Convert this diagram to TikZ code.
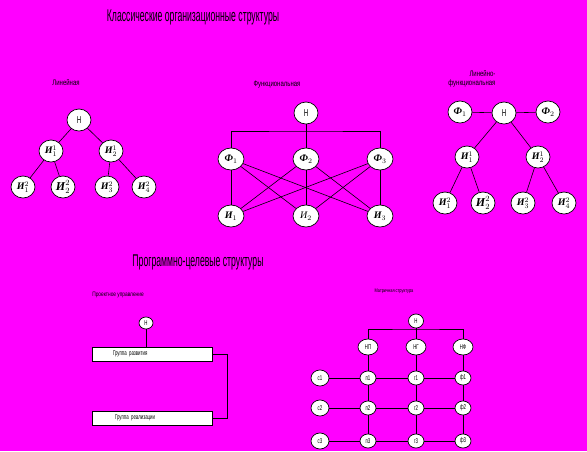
\documentclass[tikz,border=0pt]{standalone}
\usepackage{fontspec}
\setmainfont{Liberation Serif}
\newfontfamily\narrowfont[FakeStretch=0.62]{Liberation Sans}
\newfontfamily\capfont[FakeStretch=0.75]{Liberation Sans}
\newfontfamily\headfont[FakeStretch=0.51]{Liberation Sans}
\usetikzlibrary{shapes.geometric}
\definecolor{bgmag}{HTML}{FF00FF}

\begin{document}
\begin{tikzpicture}[x=1pt,y=-1pt,
    unit/.style={ellipse, draw, fill=white, line width=0.7pt, minimum width=24pt, minimum height=22pt, inner sep=0pt, font=\fontsize{10}{10}\selectfont\bfseries\itshape},
    small/.style={ellipse, draw, fill=white, line width=0.7pt, minimum width=16pt, minimum height=14pt, inner sep=0pt, font=\narrowfont\fontsize{7}{7}\selectfont},
    caption/.style={font=\capfont\fontsize{8}{9}\selectfont},
    heading/.style={font=\headfont\fontsize{17}{17}\selectfont},
    groupbox/.style={draw, fill=white, line width=0.7pt, minimum height=14pt, text width=120pt, inner xsep=0pt, align=left, font=\narrowfont\fontsize{7}{7}\selectfont},
    link/.style={line width=0.6pt}]
    \fill[bgmag] (0,0) rectangle (587,451);
    \useasboundingbox (0,0) rectangle (587,451);

    \node[heading] (T1) at (193,17) {Классические организационные структуры};
    \node[heading] (T2) at (198,262) {Программно-целевые структуры};

    % linear
    \node[caption] (capL) at (66,83) {Линейная};
    \node[unit] (LN) at (79,120) {\mdseries\upshape\narrowfont Н};
    \node[unit] (L11) at (51,151) {И$^{1}_{1}$};
    \node[unit] (L12) at (111,151) {И$^{1}_{2}$};
    \node[unit] (L21) at (23,187) {И$^{2}_{1}$};
    \node[unit] (L22) at (63,187) {\fontsize{12}{12}\selectfont И$^{2}_{2}$};
    \node[unit] (L23) at (107,187) {И$^{2}_{3}$};
    \node[unit] (L24) at (144,187) {И$^{2}_{4}$};
    \draw[link] (LN) -- (L11); \draw[link] (LN) -- (L12);
    \draw[link] (L11) -- (L21); \draw[link] (L11) -- (L22);
    \draw[link] (L12) -- (L23); \draw[link] (L12) -- (L24);

    % functional
    \node[caption] (capF) at (277,85) {Функциональная};
    \node[unit] (FN) at (306,113) {\mdseries\upshape\narrowfont Н};
    \coordinate (Fbar) at (306,131);
    \node[unit, minimum width=26pt] (F1) at (231,159) {Ф$_{1}$};
    \node[unit, minimum width=26pt] (F2) at (306,159) {Ф$_{2}$};
    \node[unit, minimum width=26pt] (F3) at (380,159) {Ф$_{3}$};
    \node[unit, minimum width=26pt] (FI1) at (231,216) {И$_{1}$};
    \node[unit, minimum width=26pt] (FI2) at (306,216) {\mdseries И$_{2}$};
    \node[unit, minimum width=26pt] (FI3) at (380,216) {И$_{3}$};
    \draw[link] (FN) -- (F2);
    \draw[link] (F1) |- (Fbar) -| (F3);
    \foreach \f in {F1,F2,F3} {
        \foreach \i in {FI1,FI2,FI3} {\draw[link] (\f) -- (\i);}
    }

    % linear-functional
    \node[caption, align=right, anchor=east] (capLF) at (499,79) {Линейно-\\функциональная};
    \node[unit] (LFN) at (504,113) {\mdseries\upshape\narrowfont Н};
    \node[unit] (LF1) at (460,112) {Ф$_{1}$};
    \node[unit] (LF2) at (548,112) {Ф$_{2}$};
    \node[unit] (M11) at (467,157) {И$^{1}_{1}$};
    \node[unit] (M12) at (538,157) {И$^{1}_{2}$};
    \node[unit] (M21) at (445,203) {И$^{2}_{1}$};
    \node[unit] (M22) at (483,203) {\fontsize{12}{12}\selectfont И$^{2}_{2}$};
    \node[unit] (M23) at (523,203) {И$^{2}_{3}$};
    \node[unit] (M24) at (564,203) {И$^{2}_{4}$};
    \draw[link] (LF1) -- (LFN) -- (LF2);
    \draw[link] (LFN) -- (M11); \draw[link] (LFN) -- (M12);
    \draw[link] (M11) -- (M21); \draw[link] (M11) -- (M22);
    \draw[link] (M12) -- (M23); \draw[link] (M12) -- (M24);

    % project management
    \node[caption, font=\capfont\fontsize{6.4}{7}\selectfont] (capP) at (118,295) {Проектное управление};
    \node[small, minimum width=14pt, minimum height=12pt] (PN) at (146,323) {Н};
    \node[groupbox] (G1) at (152,354) {\hspace*{21pt}Группа развития};
    \node[groupbox] (G2) at (152,418) {\hspace*{23pt}Группа реализации};
    \draw[link] (PN) -- (PN |- G1.north);
    \draw[link] (G1.east) -- ++(15,0) |- (G2.east);

    % matrix
    \node[caption, font=\capfont\fontsize{5.2}{6}\selectfont] (capM) at (394,291) {Матричная структура};
    \node[small, minimum width=15pt] (XN) at (416,321) {Н};
    \coordinate (Xbar) at (416,329);
    \node[small, minimum width=20pt, minimum height=16pt] (H1) at (368,347) {НП};
    \node[small, minimum width=20pt, minimum height=16pt] (H2) at (416,347) {НГ};
    \node[small, minimum width=20pt, minimum height=16pt] (H3) at (463,347) {НФ};
    \draw[link] (XN) -- (H2);
    \draw[link] (H1) |- (Xbar) -| (H3);
    \foreach \r/\y in {1/378,2/408,3/441} {
        \node[small, minimum width=18pt, minimum height=16pt] (c\r) at (320,\y) {с\r};
        \node[small] (p\r) at (368,\y) {п\r};
        \node[small] (g\r) at (416,\y) {г\r};
        \node[small] (f\r) at (463,\y) {ф\r};
        \draw[link] (c\r) -- (p\r) -- (g\r) -- (f\r);
    }
    \draw[link] (H1) -- (p1) -- (p2) -- (p3);
    \draw[link] (H2) -- (g1) -- (g2) -- (g3);
    \draw[link] (H3) -- (f1) -- (f2) -- (f3);
\end{tikzpicture}
\end{document}
